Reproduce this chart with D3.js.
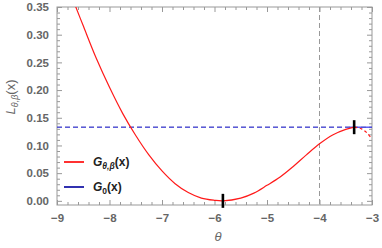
<!DOCTYPE html>
<html lang="en">
<head>
<meta charset="utf-8">
<title>L theta beta</title>
<script src="https://cdnjs.cloudflare.com/ajax/libs/d3/7.8.5/d3.min.js"></script>
<style>
  body { margin: 0; background: #fff; }
  .tick text { font-family: "Liberation Sans", Arial, sans-serif; font-size: 11.5px; font-weight: bold; fill: #666; }
  .tick line { stroke: #999; }
  .lbl { font-family: "Liberation Sans", Arial, sans-serif; fill: #666; }
  .leg { font-family: "Liberation Sans", Arial, sans-serif; fill: #222; font-size: 12px; font-weight: bold; }
</style>
</head>
<body>
<script>
// solid part of G_theta,beta
const thetaMain = [-8.65, -8.5, -8.25, -8.0, -7.75, -7.5, -7.25, -7.0, -6.75, -6.5, -6.25, -6.0, -5.84,
                   -5.5, -5.25, -5.0, -4.75, -4.5, -4.25, -4.0, -3.75, -3.5, -3.34];
const valMain   = [0.352, 0.316, 0.257, 0.205, 0.158, 0.118, 0.083, 0.054, 0.031, 0.015, 0.005, 0.001, 0.0,
                   0.005, 0.014, 0.028, 0.043, 0.062, 0.083, 0.103, 0.119, 0.129, 0.133];
// dashed tail after the maximum
const thetaTail = [-3.34, -3.2, -3.1, -3.02];
const valTail   = [0.133, 0.130, 0.123, 0.114];

const g0Level = 0.133;
const g0SolidFrom = -3.45;
const vLine = -4;
const markers = [[-5.84, 0.0], [-3.34, 0.133]];

const xMajor = [-9, -8, -7, -6, -5, -4, -3];
const yMajor = [0, 0.05, 0.10, 0.15, 0.20, 0.25, 0.30, 0.35];

const W = 382, H = 248;
const mLeft = 57, mRight = 372, mTop = 7, mBottom = 205;

const x = d3.scaleLinear().domain([-9, -3]).range([mLeft, mRight]);
const y = d3.scaleLinear().domain([-0.0075, 0.35]).range([mBottom, mTop]);

const svg = d3.select("body").append("svg").attr("width", W).attr("height", H);

const xMinor = d3.range(-9, -2.99, 0.2).map(v => +v.toFixed(2)).filter(v => Math.abs(v - Math.round(v)) > 1e-6);
const yMinor = d3.range(0, 0.3501, 0.01).map(v => +v.toFixed(3)).filter(v => Math.abs(v * 20 - Math.round(v * 20)) > 1e-6);

function noDomain(g) { g.select(".domain").remove(); }

// bottom axis
svg.append("g").attr("transform", `translate(0,${mBottom})`)
  .call(d3.axisBottom(x).tickValues(xMajor).tickSizeInner(-5).tickSizeOuter(0).tickPadding(9)
    .tickFormat(d => "\u2212" + Math.abs(d)))
  .call(noDomain);
svg.append("g").attr("transform", `translate(0,${mBottom})`)
  .call(d3.axisBottom(x).tickValues(xMinor).tickSizeInner(-3).tickSizeOuter(0).tickFormat(""))
  .call(noDomain);
// top axis
svg.append("g").attr("transform", `translate(0,${mTop})`)
  .call(d3.axisTop(x).tickValues(xMajor).tickSizeInner(-5).tickSizeOuter(0).tickFormat(""))
  .call(noDomain);
svg.append("g").attr("transform", `translate(0,${mTop})`)
  .call(d3.axisTop(x).tickValues(xMinor).tickSizeInner(-3).tickSizeOuter(0).tickFormat(""))
  .call(noDomain);
// left axis
svg.append("g").attr("transform", `translate(${mLeft},0)`)
  .call(d3.axisLeft(y).tickValues(yMajor).tickSizeInner(-5).tickSizeOuter(0).tickPadding(8)
    .tickFormat(d3.format(".2f")))
  .call(noDomain);
svg.append("g").attr("transform", `translate(${mLeft},0)`)
  .call(d3.axisLeft(y).tickValues(yMinor).tickSizeInner(-3).tickSizeOuter(0).tickFormat(""))
  .call(noDomain);
// right axis
svg.append("g").attr("transform", `translate(${mRight},0)`)
  .call(d3.axisRight(y).tickValues(yMajor).tickSizeInner(-5).tickSizeOuter(0).tickFormat(""))
  .call(noDomain);
svg.append("g").attr("transform", `translate(${mRight},0)`)
  .call(d3.axisRight(y).tickValues(yMinor).tickSizeInner(-3).tickSizeOuter(0).tickFormat(""))
  .call(noDomain);

// frame
svg.append("rect").attr("x", mLeft).attr("y", mTop).attr("width", mRight - mLeft).attr("height", mBottom - mTop)
  .attr("fill", "none").attr("stroke", "#999").attr("stroke-width", 1);

// reference lines
svg.append("line").attr("x1", x(vLine)).attr("x2", x(vLine)).attr("y1", mTop).attr("y2", mBottom)
  .attr("stroke", "#999").attr("stroke-width", 1).attr("stroke-dasharray", "5,3");
svg.append("line").attr("x1", mLeft).attr("x2", mRight).attr("y1", y(g0Level)).attr("y2", y(g0Level))
  .attr("stroke", "#888").attr("stroke-width", 1).attr("stroke-dasharray", "5,3");
svg.append("line").attr("x1", mLeft).attr("x2", x(g0SolidFrom)).attr("y1", y(g0Level)).attr("y2", y(g0Level))
  .attr("stroke", "#3333ee").attr("stroke-width", 1).attr("stroke-dasharray", "5,3");
svg.append("line").attr("x1", x(g0SolidFrom)).attr("x2", mRight).attr("y1", y(g0Level)).attr("y2", y(g0Level))
  .attr("stroke", "#3333ee").attr("stroke-width", 1.2);

// curve
svg.append("clipPath").attr("id", "clip").append("rect")
  .attr("x", mLeft).attr("y", mTop).attr("width", mRight - mLeft).attr("height", mBottom - mTop);
const line = d3.line().x(d => x(d[0])).y(d => y(d[1])).curve(d3.curveCatmullRom.alpha(0.5));
svg.append("path").datum(d3.zip(thetaMain, valMain)).attr("d", line)
  .attr("fill", "none").attr("stroke", "#ff1a1a").attr("stroke-width", 1.2).attr("clip-path", "url(#clip)");
svg.append("path").datum(d3.zip(thetaTail, valTail)).attr("d", line)
  .attr("fill", "none").attr("stroke", "#ff1a1a").attr("stroke-width", 1.2).attr("stroke-dasharray", "3,2.5");

// markers
svg.selectAll(".mk").data(markers).enter().append("line")
  .attr("x1", d => x(d[0])).attr("x2", d => x(d[0]))
  .attr("y1", d => y(d[1]) - 7).attr("y2", d => y(d[1]) + 7)
  .attr("stroke", "#000").attr("stroke-width", 2.6);

// legend
const legend = [
  { color: "#ff1a1a", sub: "\u03b8,\u03b2", yv: 162 },
  { color: "#1a1aa8", sub: "0", yv: 187 }
];
legend.forEach(l => {
  svg.append("line").attr("x1", 64).attr("x2", 84).attr("y1", l.yv).attr("y2", l.yv)
    .attr("stroke", l.color).attr("stroke-width", 1.8);
  const t = svg.append("text").attr("class", "leg").attr("x", 93).attr("y", l.yv + 4);
  t.append("tspan").attr("font-style", "italic").text("G");
  t.append("tspan").attr("font-size", "8.5px").attr("dy", 3)
    .attr("font-style", l.sub === "0" ? "normal" : "italic").text(l.sub);
  t.append("tspan").attr("dy", -3).text("(");
  t.append("tspan").text("x");
  t.append("tspan").text(")");
});

// axis labels
const yl = svg.append("text").attr("class", "lbl").attr("font-size", "13px")
  .attr("transform", `translate(15,${97}) rotate(-90)`).attr("text-anchor", "middle");
yl.append("tspan").attr("font-style", "italic").text("L");
yl.append("tspan").attr("font-style", "italic").attr("font-size", "9px").attr("dy", 3).text("\u03b8,\u03b2");
yl.append("tspan").attr("dy", -3).text("(x)");

svg.append("text").attr("class", "lbl").attr("font-size", "13px").attr("font-style", "italic")
  .attr("x", 218).attr("y", 241).attr("text-anchor", "middle").text("\u03b8");
</script>
</body>
</html>
